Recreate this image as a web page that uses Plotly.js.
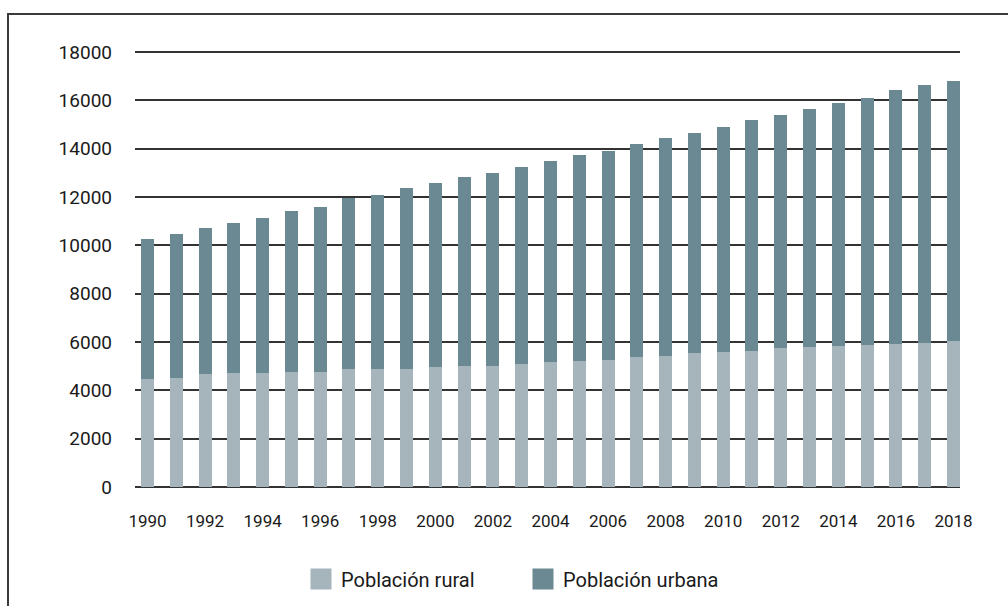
<!DOCTYPE html>
<html>
<head>
<meta charset="utf-8">
<script src="https://cdn.plot.ly/plotly-3.0.1.min.js"></script>
<style>
html, body { margin: 0; padding: 0; background: #fff; overflow: hidden; }
#chart { width: 1008px; height: 606px; overflow: hidden; }
</style>
</head>
<body>
<div id="chart"></div>
<script>
var years = [1990, 1991, 1992, 1993, 1994, 1995, 1996, 1997, 1998, 1999,
             2000, 2001, 2002, 2003, 2004, 2005, 2006, 2007, 2008, 2009,
             2010, 2011, 2012, 2013, 2014, 2015, 2016, 2017, 2018];
var rural = [4470, 4510, 4680, 4720, 4720, 4760, 4760, 4880, 4880, 4880,
             4970, 5010, 5010, 5090, 5170, 5210, 5260, 5380, 5420, 5550,
             5590, 5630, 5750, 5790, 5840, 5880, 5920, 5960, 6040];
var urbana = [5790, 5960, 6040, 6200, 6410, 6660, 6830, 7080, 7200, 7490,
              7610, 7820, 7980, 8150, 8320, 8530, 8640, 8810, 9020, 9100,
              9310, 9560, 9640, 9850, 10050, 10220, 10510, 10680, 10760];
var xTicks = [1990, 1992, 1994, 1996, 1998, 2000, 2002, 2004, 2006, 2008,
              2010, 2012, 2014, 2016, 2018];
var yTicks = [0, 2000, 4000, 6000, 8000, 10000, 12000, 14000, 16000, 18000];
var seriesNames = ['Población rural', 'Población urbana'];
var seriesColors = ['#a6b5bc', '#6a8993'];

var FONT = 'Roboto, "Open Sans", sans-serif';

var traces = [
  { type: 'bar', x: years, y: rural, name: seriesNames[0], width: 0.4516,
    marker: { color: seriesColors[0] }, showlegend: false, hoverinfo: 'x+y+name' },
  { type: 'bar', x: years, y: urbana, name: seriesNames[1], width: 0.4516,
    marker: { color: seriesColors[1] }, showlegend: false, hoverinfo: 'x+y+name' },
  { type: 'scatter', mode: 'markers', x: [null], y: [null], name: seriesNames[0],
    marker: { symbol: 'square', size: 22, color: seriesColors[0],
              line: { color: seriesColors[0], width: 5 } }, showlegend: true },
  { type: 'scatter', mode: 'markers', x: [null], y: [null], name: seriesNames[1],
    marker: { symbol: 'square', size: 22, color: seriesColors[1],
              line: { color: seriesColors[1], width: 5 } }, showlegend: true }
];

var padPx = 4;
var L = 135, R = 960, T = 52 - padPx, B = 487 + padPx;
var W = R - L, H = B - T;
var unitsPerPx = 18000 / 435;
var pad = padPx * unitsPerPx;

var layout = {
  width: 1008, height: 606,
  margin: { l: L, r: 1008 - R, t: T, b: 606 - B, pad: 0, autoexpand: false },
  barmode: 'stack',
  paper_bgcolor: '#ffffff', plot_bgcolor: '#ffffff',
  font: { family: FONT, color: '#1a1a1a', size: 18 },
  showlegend: true,
  legend: {
    orientation: 'h',
    xref: 'container', x: 301 / 1008, xanchor: 'left',
    yref: 'container', y: 1 - 579 / 606, yanchor: 'middle',
    font: { family: FONT, size: 20, color: '#1a1a1a' },
    itemsizing: 'trace', entrywidth: 177, entrywidthmode: 'pixels',
    traceorder: 'normal', itemclick: false, itemdoubleclick: false
  },
  xaxis: {
    type: 'linear', range: [1989.566, 2018.226],
    tickmode: 'array', tickvals: xTicks, ticktext: xTicks.map(String),
    showgrid: false, zeroline: false, showline: false,
    ticks: '', ticklabelstandoff: 22 - padPx,
    tickfont: { family: FONT, size: 17, color: '#1a1a1a' },
    fixedrange: true
  },
  yaxis: {
    range: [-pad, 18000 + pad],
    tickmode: 'array', tickvals: yTicks, ticktext: yTicks.map(String),
    showgrid: true, gridcolor: '#333333', gridwidth: 2,
    zeroline: false, showline: false, ticks: '', ticklabelstandoff: 22,
    tickfont: { family: FONT, size: 19, color: '#1a1a1a' },
    fixedrange: true
  },
  shapes: [
    { type: 'rect', xref: 'paper', yref: 'paper',
      x0: (8 - L) / W, x1: (1014 - L) / W,
      y0: (B - 612) / H, y1: (B - 14) / H,
      line: { color: '#3a3a3a', width: 2 }, fillcolor: 'rgba(0,0,0,0)', layer: 'below' }
  ]
};

Plotly.newPlot('chart', traces, layout, { displayModeBar: false, staticPlot: true });
</script>
</body>
</html>
